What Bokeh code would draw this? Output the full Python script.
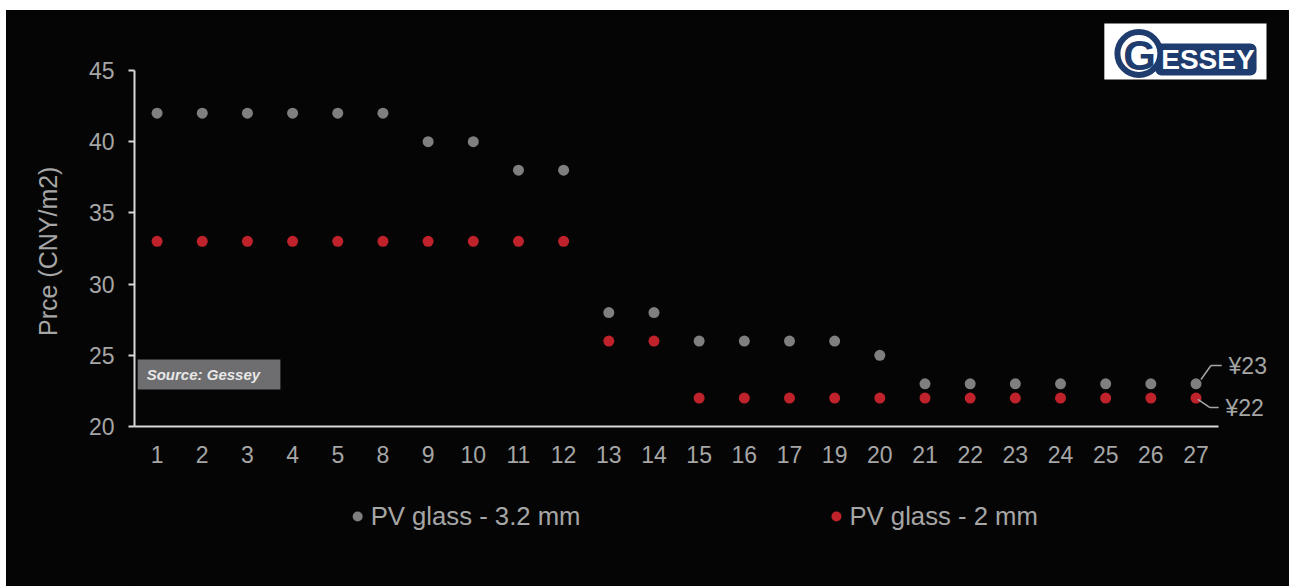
from bokeh.plotting import figure
from bokeh.layouts import column
from bokeh.models import (Range1d, FixedTicker, Label, BoxAnnotation, Arrow, ColumnDataSource)
from bokeh.core.properties import value
from bokeh.embed import file_html
from bokeh.resources import INLINE

# ---- data ----
months = ["1", "2", "3", "4", "5", "8", "9", "10", "11", "12", "13", "14",
          "15", "16", "17", "19", "20", "21", "22", "23", "24", "25", "26", "27"]
glass_32 = [42, 42, 42, 42, 42, 42, 40, 40, 38, 38, 28, 28,
            26, 26, 26, 26, 25, 23, 23, 23, 23, 23, 23, 23]
glass_2 = [33, 33, 33, 33, 33, 33, 33, 33, 33, 33, 26, 26,
           22, 22, 22, 22, 22, 22, 22, 22, 22, 22, 22, 22]
y_ticks = [20, 25, 30, 35, 40, 45]
series_names = ["PV glass - 3.2 mm", "PV glass - 2 mm"]

BG = "#050505"
GRAY_PT = "#7f7f7f"
RED_PT = "#c0222b"
TXT = "#a6a6a6"
AXIS = "#d9d9d9"
NAVY = "#1f3c6e"
FONT = "Liberation Sans"
series_colors = [GRAY_PT, RED_PT]

n = len(months)
idx = list(range(n))
src = ColumnDataSource(dict(x=idx, a=glass_32, b=glass_2))

p = figure(x_range=Range1d(-0.5, 24.87), y_range=Range1d(20, 48.51),
           frame_width=1146, frame_height=406, output_backend="svg", toolbar_location=None,
           min_border_left=128, min_border_right=9, min_border_top=10, min_border_bottom=50,
           background_fill_color=BG, border_fill_color=BG, outline_line_color=None,
           margin=(10, 0, 0, 6), styles={"background-color": BG})
p.grid.visible = False

r1 = p.scatter("x", "a", source=src, size=11, color=series_colors[0], line_color=None)
r2 = p.scatter("x", "b", source=src, size=11, color=series_colors[1], line_color=None)

# axes
yax = p.yaxis[0]
yax.ticker = FixedTicker(ticks=y_ticks)
yax.bounds = (y_ticks[0], y_ticks[-1])
yax.minor_tick_line_color = None
yax.major_tick_in = 0
yax.major_tick_out = 6
yax.major_tick_line_color = AXIS
yax.major_tick_line_width = 2
yax.axis_line_color = AXIS
yax.axis_line_width = 2
yax.major_label_text_color = TXT
yax.major_label_text_font = FONT
yax.major_label_text_font_size = "23px"
yax.major_label_standoff = 14
# non-breaking spaces keep the title centred on the 20-45 axis span
yax.axis_label = "Prce (CNY/m2)" + "\u00a0" * 8
yax.axis_label_text_color = TXT
yax.axis_label_text_font = FONT
yax.axis_label_text_font_size = "25px"
yax.axis_label_text_font_style = "normal"
yax.axis_label_standoff = 24

xax = p.xaxis[0]
xax.ticker = FixedTicker(ticks=idx)
xax.major_label_overrides = {i: m for i, m in zip(idx, months)}
xax.bounds = (-0.5, n - 0.5)
xax.major_tick_line_color = None
xax.minor_tick_line_color = None
xax.major_tick_out = 0
xax.major_tick_in = 0
xax.axis_line_color = AXIS
xax.axis_line_width = 2
xax.major_label_text_color = TXT
xax.major_label_text_font = FONT
xax.major_label_text_font_size = "23px"
xax.major_label_standoff = 19

# end labels with leader lines
xl = n - 1
ends = [(glass_32[-1], 0.11, 0.3, 0.33, 1.28, 0.57, 0.72, "¥23"),
        (glass_2[-1], 0.04, -0.1, 0.31, -0.67, 0.50, 0.65, "¥22")]
for val, x0, dy0, x1, dy1, x2, xt, txt in ends:
    p.add_layout(Arrow(end=None, x_start=xl + x0, y_start=val + dy0,
                       x_end=xl + x1, y_end=val + dy1, line_color=TXT, line_width=1.5))
    p.add_layout(Arrow(end=None, x_start=xl + x1, y_start=val + dy1,
                       x_end=xl + x2, y_end=val + dy1, line_color=TXT, line_width=1.5))
    p.add_layout(Label(x=xl + xt, y=val + dy1, text=txt, text_color=TXT, text_font=FONT,
                       text_font_size="23px", text_baseline="middle", text_align="left"))

# source box
p.add_layout(BoxAnnotation(left=-0.43, right=2.73, bottom=22.6, top=24.7,
                           fill_color="#6e6e70", fill_alpha=1, line_color=None, level="underlay"))
p.add_layout(Label(x=-0.23, y=23.65, text="Source: Gessey", text_color="#e8e8e8",
                   text_font=FONT, text_font_size="15px", text_font_style="bold italic",
                   text_baseline="middle"))

# logo
p.add_layout(BoxAnnotation(left=20.97, right=24.56, bottom=44.37, top=48.3,
                           fill_color="white", fill_alpha=1, line_color=None, level="underlay"))
p.add_layout(BoxAnnotation(left=22.1, right=24.34, bottom=44.65, top=46.9,
                           fill_color=NAVY, fill_alpha=1, line_color=None, border_radius=6,
                           level="underlay"))
p.add_layout(BoxAnnotation(left=21.26, right=22.21, bottom=44.69, top=47.7,
                           fill_color="white", fill_alpha=1, line_color=NAVY, line_width=6,
                           line_alpha=1, border_radius=22, level="underlay"))
p.add_layout(Label(x=21.75, y=46.05, text="G", text_color=NAVY, text_font=FONT,
                   text_font_size="42px", text_font_style="bold", text_align="center",
                   text_baseline="middle"))
p.add_layout(Label(x=22.23, y=45.77, text="ESSEY", text_color="white", text_font=FONT,
                   text_font_size="28px", text_font_style="bold", text_align="left",
                   text_baseline="middle"))

# legend strip below the chart (shares the x scale)
leg = figure(x_range=p.x_range, y_range=Range1d(0, 1),
             frame_width=1146, frame_height=120, output_backend="svg", toolbar_location=None,
             min_border_left=128, min_border_right=9, min_border_top=0, min_border_bottom=0,
             background_fill_color=BG, border_fill_color=BG, outline_line_color=None,
             margin=(0, 0, 0, 6), styles={"background-color": BG})
leg.axis.visible = False
leg.grid.visible = False
leg_src = ColumnDataSource(dict(x=[4.44, 15.04], y=[0.667, 0.667],
                                name=series_names, color=series_colors))
leg.scatter("x", "y", source=leg_src, size=10, color="color", line_color=None)
leg.text("x", "y", text="name", source=leg_src, x_offset=13, text_color=TXT,
         text_font=value(FONT), text_font_size=value("25.7px"), text_baseline="middle",
         text_align="left")

page = column(p, leg, spacing=0, styles={"background-color": "white"})
open("out.html", "w").write(file_html(page, INLINE))
